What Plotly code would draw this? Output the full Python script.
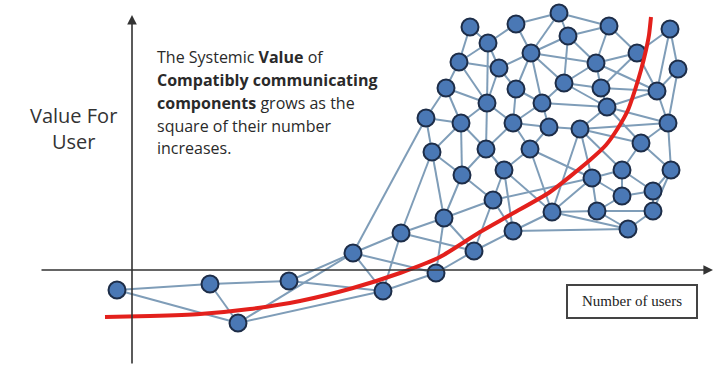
import plotly.graph_objects as go

# ---- data (pixel-space coordinates of the diagram) ----
node_x = [470, 516, 559, 609, 670, 488, 568, 459, 499, 531,
          596, 637, 678, 446, 516, 564, 601, 657, 487, 542,
          607, 426, 461, 513, 549, 580, 668, 432, 486, 530,
          641, 462, 504, 592, 622, 671, 493, 622, 653, 444,
          552, 597, 653, 401, 513, 628, 474, 353, 436, 383,
          289, 210, 238, 117]
node_y = [27, 24, 13, 26, 29, 43, 36, 62, 68, 53,
          63, 53, 69, 88, 89, 83, 88, 91, 103, 103,
          107, 118, 123, 123, 127, 129, 123, 152, 149, 149,
          143, 175, 170, 178, 170, 170, 200, 196, 191, 218,
          212, 211, 211, 233, 231, 229, 251, 253, 273, 291,
          281, 284, 323, 290]

edges = [(1,6),(1,8),(2,6),(2,3),(2,10),(3,10),(3,7),(3,4),(4,7),(4,11),(4,12),(5,12),(5,13),(5,18),
         (6,8),(6,9),(6,19),(7,10),(7,11),(7,16),(8,9),(8,14),(8,19),(9,10),(9,15),(9,19),(10,15),(10,16),
         (10,20),(10,11),(11,12),(11,16),(11,17),(11,18),(12,17),(12,18),(13,18),(13,27),(14,22),(14,19),
         (14,23),(15,20),(15,24),(16,17),(16,20),(16,21),(17,18),(17,21),(18,21),(18,27),
         (19,23),(19,24),(19,29),(20,24),(20,25),(20,21),(21,26),(21,27),(21,31),
         (22,23),(22,28),(22,48),(23,28),(23,32),(23,29),(24,25),(24,29),(24,30),(25,26),(25,30),
         (26,27),(26,34),(26,35),(26,41),(26,31),(27,31),(27,36),(28,32),(28,40),(28,44),(29,32),(29,33),
         (30,33),(30,41),(30,34),(31,35),(31,36),(32,37),(32,40),(33,37),(33,45),(33,41),
         (34,35),(34,38),(34,42),(34,41),(34,37),(35,38),(35,39),(36,39),(36,43),(38,39),(38,42),(39,43),
         (42,43),(42,46),(43,46),(41,42),(41,45),(41,46),(45,46),(37,45),(37,40),(37,47),(40,44),(40,47),
         (40,49),(44,48),(44,47),(44,50),(45,47),(47,49),(48,49),(48,50),(48,51),(49,50),(50,51),(50,53),
         (48,53),(51,52),(52,53),(52,54),(53,54)]

curve_x = [105, 150, 200, 250, 300, 353, 400, 440, 480, 510, 550, 590, 606, 618, 628, 635, 641, 646, 649, 651]
curve_y = [317, 316, 314, 309, 301, 288, 273, 257, 232, 215, 192, 160, 145, 128, 110, 90, 70, 50, 35, 17]

y_label = "Value For<br>User"
text_lines = ["The Systemic <b>Value</b> of",
              "<b>Compatibly communicating</b>",
              "<b>components</b> grows as the",
              "square of their number",
              "increases."]
x_label = "Number of users"

# ---- build figure ----
ex, ey = [], []
for a, b in edges:
    ex += [node_x[a-1], node_x[b-1], None]
    ey += [node_y[a-1], node_y[b-1], None]

fig = go.Figure()
fig.add_trace(go.Scatter(x=ex, y=ey, mode="lines",
                         line=dict(color="#7f9db8", width=2), hoverinfo="skip"))
fig.add_trace(go.Scatter(x=node_x, y=node_y, mode="markers",
                         marker=dict(size=17, color="#4a78b5",
                                     line=dict(color="#1d2d48", width=2)),
                         hoverinfo="skip"))
fig.add_trace(go.Scatter(x=curve_x, y=curve_y, mode="lines",
                         line=dict(color="#e3201c", width=4, shape="spline", smoothing=0.6),
                         hoverinfo="skip"))

# diagram axes as arrows
fig.add_annotation(x=132, y=15, ax=132, ay=365, xref="x", yref="y", axref="x", ayref="y",
                   text="", showarrow=True, arrowhead=2, arrowsize=1.2, arrowwidth=1.6,
                   arrowcolor="#333333")
fig.add_annotation(x=713, y=270, ax=40, ay=270, xref="x", yref="y", axref="x", ayref="y",
                   text="", showarrow=True, arrowhead=2, arrowsize=1.2, arrowwidth=1.6,
                   arrowcolor="#333333")

fig.add_annotation(x=73, y=128, xref="x", yref="y", text=y_label, showarrow=False,
                   font=dict(family="Open Sans", size=20, color="#333333"), align="center")

line_ys = [57, 80, 103, 126, 148]
for t, yy in zip(text_lines, line_ys):
    fig.add_annotation(x=155, y=yy, xref="x", yref="y", text=t, showarrow=False,
                       xanchor="left", yanchor="middle",
                       font=dict(family="Open Sans", size=16, color="#2a2a2a"))

fig.add_shape(type="rect", x0=567, y0=285, x1=697, y1=318, xref="x", yref="y",
              line=dict(color="#444444", width=2), fillcolor="white")
fig.add_annotation(x=632, y=301, xref="x", yref="y", text=x_label, showarrow=False,
                   font=dict(family="Liberation Serif", size=15, color="#222222"))

fig.update_layout(width=725, height=370, margin=dict(l=0, r=0, t=0, b=0),
                  paper_bgcolor="white", plot_bgcolor="white", showlegend=False,
                  xaxis=dict(range=[0, 725], visible=False, fixedrange=True),
                  yaxis=dict(range=[370, 0], visible=False, fixedrange=True))

fig.write_html("out.html")
